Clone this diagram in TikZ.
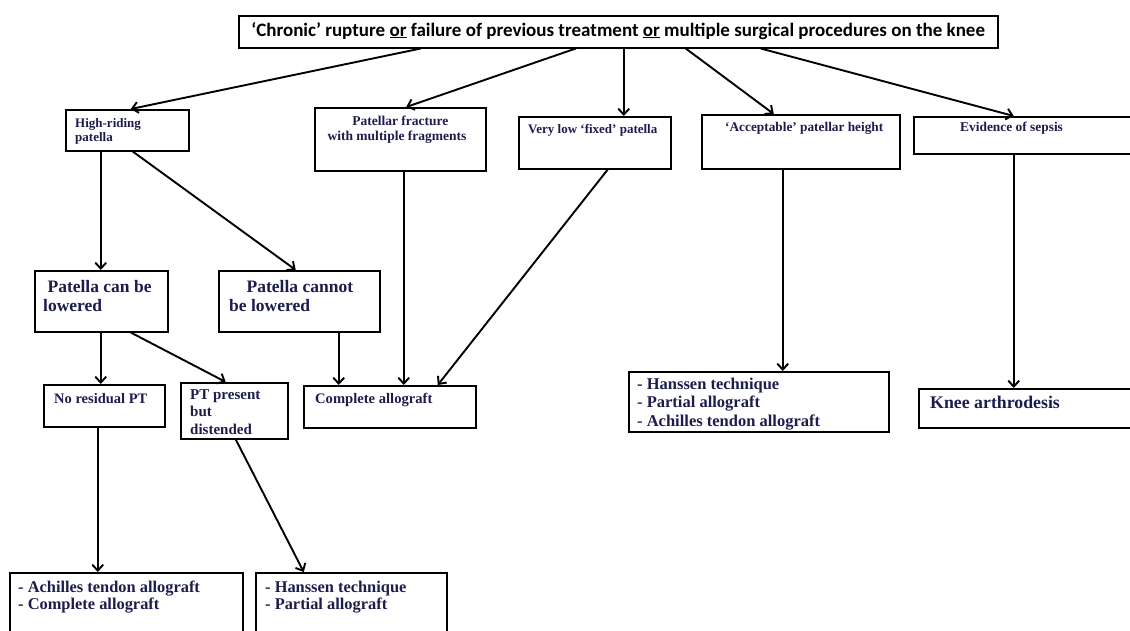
\documentclass[tikz,border=0pt]{standalone}
\usepackage{fontspec}
\setmainfont{Liberation Serif}
\newfontfamily\headfont{Carlito}
\usetikzlibrary{arrows.meta}
\definecolor{inkblue}{HTML}{1C1C4E}

\tikzset{
  box/.style={draw, line width=1.5pt, anchor=north west, inner sep=0pt},
  txt/.style={anchor=base west, inner sep=0pt, align=left, text=inkblue},
  arr/.style={-{Straight Barb[length=6pt,width=11pt]}, line width=1.9pt},
}
\newcommand{\fs}[2]{\bfseries\fontsize{#1}{#2}\selectfont}

\begin{document}
\begin{tikzpicture}[x=1pt,y=-1pt]
\useasboundingbox (0,0) rectangle (1130,630);

% boxes
\node[box, minimum width=759, minimum height=32] (top) at (238,15) {};
\node[box, minimum width=123, minimum height=41] (high) at (65,109) {};
\node[box, minimum width=171, minimum height=63] (frac) at (314,107) {};
\node[box, minimum width=152, minimum height=52] (low) at (518,116) {};
\node[box, minimum width=198, minimum height=54] (acc) at (701,114) {};
\node[box, minimum width=222, minimum height=37] (sep) at (913,116) {};
\node[box, minimum width=133, minimum height=61] (can) at (34,270) {};
\node[box, minimum width=161, minimum height=61] (cannot) at (218,270) {};
\node[box, minimum width=121, minimum height=42] (nores) at (43,384) {};
\node[box, minimum width=107, minimum height=56] (ptp) at (180,382) {};
\node[box, minimum width=172, minimum height=42] (comp) at (303,385) {};
\node[box, minimum width=260, minimum height=60] (hans) at (628,371) {};
\node[box, minimum width=217, minimum height=39] (knee) at (918,388) {};
\node[box, minimum width=233, minimum height=70] (botl) at (9,572) {};
\node[box, minimum width=191, minimum height=70] (botm) at (255,572) {};

% texts
\node[anchor=center, inner sep=0pt, font=\headfont\fs{19}{22}] (top-t) at ([yshift=1]top.center)
  {‘Chronic’ rupture \underline{or} failure of previous treatment \underline{or} multiple surgical procedures on the knee};
\node[txt, font=\fs{13}{13.5}] (high-t) at (75,141) {High-riding\\patella};
\node[txt, font=\fs{13.5}{15}, align=center, anchor=base] (frac-t) at (397,140) {\ \ Patellar fracture\\with multiple fragments};
\node[txt, font=\fs{13}{15}] (low-t) at (528,133) {Very low ‘fixed’ patella};
\node[txt, font=\fs{13.3}{15}] (acc-t) at (725,131) {‘Acceptable’ patellar height};
\node[txt, font=\fs{13.4}{15}] (sep-t) at (960,131) {Evidence of sepsis};
\node[txt, font=\fs{17.5}{19}] (can-t) at (43,311) {\ Patella can be\\lowered};
\node[txt, font=\fs{17.5}{19}] (cannot-t) at (229,311) {\quad Patella cannot\\be lowered};
\node[txt, font=\fs{14.5}{17}] (nores-t) at (54,403) {No residual PT};
\node[txt, font=\fs{15}{17.5}] (ptp-t) at (190,434) {PT present\\but\\distended};
\node[txt, font=\fs{14.6}{17}] (comp-t) at (315,403) {Complete allograft};
\node[txt, font=\fs{16.5}{18.5}] (hans-t) at (637,426) {- Hanssen technique\\- Partial allograft\\- Achilles tendon allograft};
\node[txt, font=\fs{17.8}{20}] (knee-t) at (930,408) {Knee arthrodesis};
\node[txt, font=\fs{16.4}{17}] (botl-t) at (18,609) {- Achilles tendon allograft\\- Complete allograft};
\node[txt, font=\fs{16.4}{17}] (botm-t) at (265,609) {- Hanssen technique\\- Partial allograft};

% arrows
\draw[arr] ([xshift=-197.5]top.south) -- ([xshift=3.5]high.north);
\draw[arr] ([xshift=-42.5]top.south) -- ([xshift=6]frac.north);
\draw[arr] ([xshift=5.5]top.south) -- ([xshift=29]low.north);
\draw[arr] ([xshift=67.5]top.south) -- ([xshift=-27]acc.north);
\draw[arr] ([xshift=142.5]top.south) -- ([xshift=-11]sep.north);
\draw[arr] ([xshift=-26.5]high.south) -- ([xshift=-0.5]can.north);
\draw[arr] ([xshift=5.5]high.south) -- ([xshift=-3.5]cannot.north);
\draw[arr] ([xshift=3.5]frac.south) -- ([xshift=14]comp.north);
\draw[arr] ([xshift=13]low.south) -- ([xshift=48]comp.north);
\draw[arr] ([xshift=39.5]cannot.south) -- ([xshift=-51]comp.north);
\draw[arr] ([xshift=-0.5]can.south) -- ([xshift=-3.5]nores.north);
\draw[arr] ([xshift=29.5]can.south) -- ([xshift=-8.5]ptp.north);
\draw[arr] ([xshift=-18]acc.south) -- ([xshift=24]hans.north);
\draw[arr] ([xshift=-11]sep.south) -- ([xshift=-13.5]knee.north);
\draw[arr] ([xshift=-6.5]nores.south) -- ([xshift=-28.5]botl.north);
\draw[arr] ([xshift=1.5]ptp.south) -- ([xshift=-47.5]botm.north);
\end{tikzpicture}
\end{document}
